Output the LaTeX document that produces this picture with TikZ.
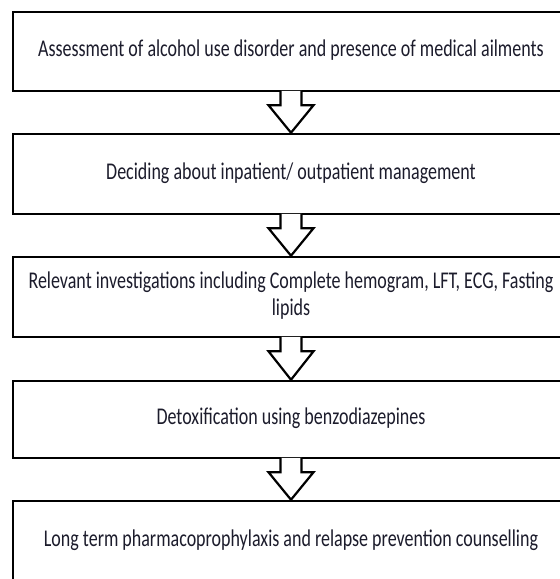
\documentclass[tikz,border=0pt]{standalone}
\usepackage{fontspec}
\setmainfont{Carlito}
\usetikzlibrary{calc}
\definecolor{textcol}{HTML}{1C1C2C}
\newcommand{\sqtext}[1]{\scalebox{0.75}[1]{\begin{tabular}{@{}c@{}}#1\end{tabular}}}
\tikzset{
  box/.style={draw=black, line width=2.5pt, minimum width=556pt, inner sep=0pt,
    font=\fontsize{24}{27}\selectfont, text=textcol, align=center},
  blockarrow/.style={draw=black, fill=white, line width=2.2pt, line join=miter}
}
\begin{document}
\begin{tikzpicture}[x=1pt,y=-1pt]
\useasboundingbox (0,0) rectangle (560,579);
\clip (0,0) rectangle (560,579);
\fill[white] (0,0) rectangle (560,579);
\node[box, minimum height=79pt] (b1) at (291,51.5) {\sqtext{Assessment of alcohol use disorder and presence of medical ailments}};
\node[box, minimum height=80pt] (b2) at (291,174) {\sqtext{Deciding about inpatient/ outpatient management}};
\node[box, minimum height=80pt] (b3) at (291,297) {\sqtext{Relevant investigations including Complete hemogram, LFT, ECG, Fasting\\lipids}};
\node[box, minimum height=77pt] (b4) at (291,419.5) {\sqtext{Detoxification using benzodiazepines}};
\node[box, minimum height=80pt] (b5) at (291,541) {\sqtext{Long term pharmacoprophylaxis and relapse prevention counselling}};
\foreach \a/\b in {b1/b2,b2/b3,b3/b4,b4/b5}{
  \filldraw[blockarrow] ($(\a.south)+(-10.5,-1.5)$) -- ($(\a.south)+(-10.5,13)$) -- ($(\a.south)+(-22.5,13)$)
    -- (\b.north) -- ($(\a.south)+(22.5,13)$) -- ($(\a.south)+(10.5,13)$) -- ($(\a.south)+(10.5,-1.5)$);
}
\end{tikzpicture}
\end{document}
